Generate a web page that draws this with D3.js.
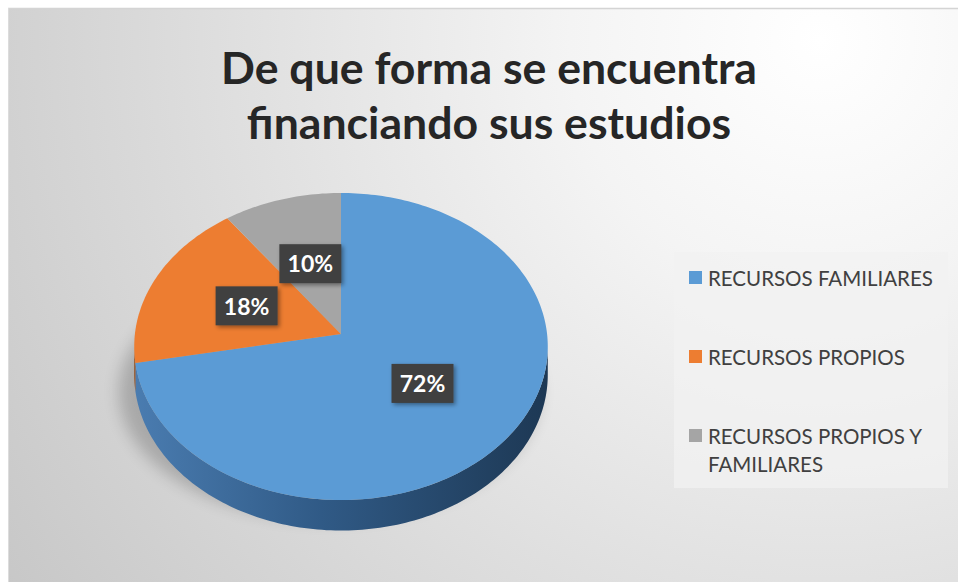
<!DOCTYPE html>
<html>
<head>
<meta charset="utf-8">
<script src="https://cdn.jsdelivr.net/npm/d3@7"></script>
<style>
  html, body { margin: 0; padding: 0; background: #fff; }
  svg { display: block; }
</style>
</head>
<body>
<div id="chart"></div>
<script>
// data
var categories = ["RECURSOS FAMILIARES", "RECURSOS PROPIOS", "RECURSOS PROPIOS Y FAMILIARES"];
var values = [72, 18, 10];
var valueLabels = ["72%", "18%", "10%"];
var titleLines = ["De que forma se encuentra", "financiando sus estudios"];

var width = 958, height = 582;

var svg = d3.select("#chart").append("svg")
    .attr("width", width)
    .attr("height", height);

var defs = svg.append("defs");

var bg = defs.append("radialGradient").attr("id", "bg")
    .attr("gradientUnits", "userSpaceOnUse")
    .attr("cx", 820).attr("cy", 40).attr("r", 1000);
bg.append("stop").attr("offset", "0%").attr("stop-color", "#ffffff");
bg.append("stop").attr("offset", "25%").attr("stop-color", "#f4f4f4");
bg.append("stop").attr("offset", "70%").attr("stop-color", "#d8d8d8");
bg.append("stop").attr("offset", "100%").attr("stop-color", "#c6c6c6");

var side = defs.append("linearGradient").attr("id", "side")
    .attr("gradientUnits", "userSpaceOnUse")
    .attr("x1", 135).attr("x2", 548).attr("y1", 0).attr("y2", 0);
side.append("stop").attr("offset", "0%").attr("stop-color", "#4a7cb0");
side.append("stop").attr("offset", "45%").attr("stop-color", "#305a86");
side.append("stop").attr("offset", "100%").attr("stop-color", "#1d3854");

var blur = defs.append("filter").attr("id", "blur")
    .attr("x", "-30%").attr("y", "-30%").attr("width", "160%").attr("height", "160%");
blur.append("feGaussianBlur").attr("stdDeviation", 8);

var shadow = defs.append("filter").attr("id", "shadow")
    .attr("x", "-30%").attr("y", "-30%").attr("width", "160%").attr("height", "160%");
shadow.append("feDropShadow").attr("dx", 2).attr("dy", 2).attr("stdDeviation", 2)
    .attr("flood-color", "#000").attr("flood-opacity", 0.4);

// frame
svg.append("rect").attr("x", 8).attr("y", 8)
    .attr("width", width - 8).attr("height", height - 8)
    .attr("fill", "url(#bg)");
svg.append("line").attr("x1", 8).attr("x2", width).attr("y1", 8.5).attr("y2", 8.5)
    .attr("stroke", "#d4d4d4").attr("stroke-width", 1.5);
svg.append("line").attr("x1", 8.5).attr("x2", 8.5).attr("y1", 8).attr("y2", height)
    .attr("stroke", "#dcdcdc").attr("stroke-width", 1);

// title, fitted to the width it has in the picture
var title = svg.append("g").attr("fill", "#262626")
    .attr("font-family", "Lato, 'Open Sans', sans-serif").attr("font-weight", "bold")
    .attr("text-anchor", "middle");
var t1 = title.append("text").attr("x", 489).attr("y", 84).attr("font-size", 44).text(titleLines[0]);
var fs = 44 * 536 / t1.node().getComputedTextLength();
t1.attr("font-size", fs);
title.append("text").attr("x", 489).attr("y", 139).attr("font-size", fs).text(titleLines[1]);

// 3d pie: unit circle seen in perspective
var cx = 341, cy = 334, dist = 8.22, tiltC = 0.67, tiltS = 0.74, focal = 1694, depth = 28;

function proj(r, a, dz) {
    var X = r * Math.sin(a), Z = -r * Math.cos(a), q = dist - tiltC * Z;
    return [cx + focal * X / q, cy + focal * tiltS * Z / q + (dz || 0) * dist / q];
}
function rimPts(a0, a1, dz) {
    var n = Math.max(2, Math.ceil((a1 - a0) / 0.02));
    return d3.range(n + 1).map(function(i) { return proj(1, a0 + (a1 - a0) * i / n, dz); });
}

var color = d3.scaleOrdinal().domain(categories).range(["#5b9bd5", "#ed7d31", "#a5a5a5"]);

var pie = d3.pie().sort(null).value(function(d) { return d.v; });
var arcs = pie(categories.map(function(c, i) { return {c: c, v: values[i], l: valueLabels[i]}; }));
var line = d3.line();

// silhouette angles (left/right extremes of the rim)
var grid = d3.range(0, 2 * Math.PI, 0.005);
var aRight = grid.filter(function(a) { return a < Math.PI; })
    .reduce(function(b, a) { return proj(1, a)[0] > proj(1, b)[0] ? a : b; });
var aLeft = grid.filter(function(a) { return a > Math.PI; })
    .reduce(function(b, a) { return proj(1, a)[0] < proj(1, b)[0] ? a : b; });

// soft shadow under the pie
svg.append("ellipse").attr("cx", cx - 12).attr("cy", 392)
    .attr("rx", 210).attr("ry", 128)
    .attr("fill", "#000").attr("opacity", 0.2).attr("filter", "url(#blur)");

// sides (front part only)
var sides = svg.append("g");
arcs.forEach(function(d) {
    var a0 = Math.max(d.startAngle, aRight),
        a1 = Math.min(d.endAngle, aLeft);
    if (a1 <= a0) return;
    var pts = rimPts(a0, a1, 0).concat(rimPts(a0, a1, depth).reverse());
    sides.append("path").attr("d", line(pts) + "Z")
        .attr("fill", d.index === 0 ? "url(#side)" : d3.color(color(d.data.c)).darker(1.3));
});

// top face
var faces = svg.append("g");
faces.selectAll("path").data(arcs).enter().append("path")
    .attr("d", function(d) {
        return line([[cx, cy]].concat(rimPts(d.startAngle, d.endAngle, 0))) + "Z";
    })
    .attr("fill", function(d) { return color(d.data.c); });

// data labels
var lab = svg.append("g").selectAll("g").data(arcs).enter().append("g")
    .attr("transform", function(d) {
        var p = proj(0.5, (d.startAngle + d.endAngle) / 2);
        return "translate(" + p + ")";
    });
lab.append("rect").attr("x", -31).attr("y", -20).attr("width", 62).attr("height", 39)
    .attr("fill", "#404040").attr("filter", "url(#shadow)");
lab.append("text").attr("text-anchor", "middle").attr("dy", "0.36em")
    .attr("fill", "#fff").attr("font-family", "Lato, 'Open Sans', sans-serif")
    .attr("font-weight", "bold").attr("font-size", 23)
    .text(function(d) { return d.data.l; });

// legend
var legend = svg.append("g");
legend.append("rect").attr("x", 674).attr("y", 252).attr("width", 274).attr("height", 236)
    .attr("fill", "#f2f2f2").attr("opacity", 0.75);

var legendY = d3.scalePoint().domain(categories).range([286, 444]);
var item = legend.selectAll(".item").data(categories).enter().append("g")
    .attr("class", "item")
    .attr("transform", function(d) { return "translate(689," + legendY(d) + ")"; });
item.append("rect").attr("x", 0).attr("y", -15).attr("width", 13).attr("height", 13)
    .attr("fill", function(d) { return color(d); });
var ltxt = item.append("text").attr("x", 19)
    .attr("fill", "#404040").attr("font-family", "Lato, 'Open Sans', sans-serif")
    .attr("font-size", 20);

// fit legend font to the first entry's width, then wrap long entries
var probe = ltxt.filter(function(d, i) { return i === 0; }).text(categories[0]);
var lfs = 20 * 225 / probe.node().getComputedTextLength();
ltxt.attr("font-size", lfs).text(null);
ltxt.each(function(d) {
    var el = d3.select(this), words = d.split(" "), cur = [];
    var ts = el.append("tspan").attr("x", 19).attr("dy", 0);
    words.forEach(function(w) {
        cur.push(w);
        ts.text(cur.join(" "));
        if (ts.node().getComputedTextLength() > 240 && cur.length > 1) {
            cur.pop();
            ts.text(cur.join(" "));
            cur = [w];
            ts = el.append("tspan").attr("x", 19).attr("dy", 28).text(w);
        }
    });
});
</script>
</body>
</html>
